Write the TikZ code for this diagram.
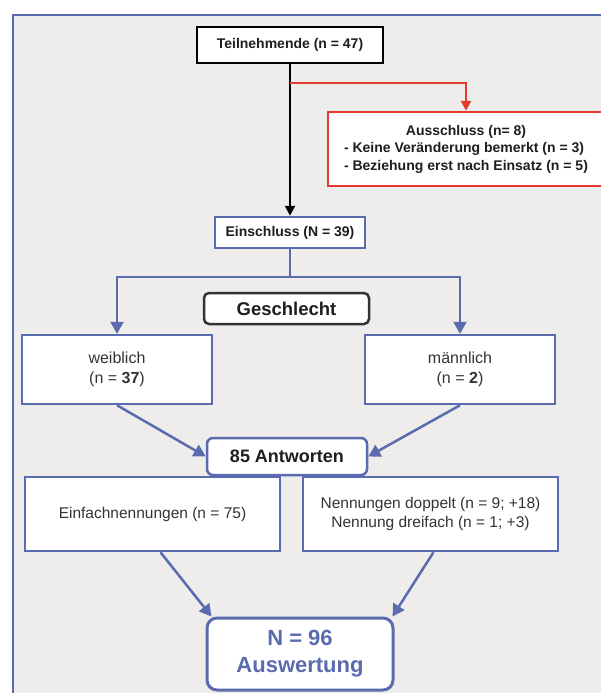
\documentclass[tikz,border=0pt]{standalone}
\usepackage{fontspec}
\setmainfont{Liberation Sans}
\usetikzlibrary{arrows.meta,calc}
\definecolor{fblue}{HTML}{5A6BAF}
\definecolor{bggray}{HTML}{EFECEC}
\definecolor{fred}{HTML}{E53A2F}
\definecolor{txt}{HTML}{1E1E1E}
\definecolor{dgray}{HTML}{333333}
\begin{document}
\begin{tikzpicture}[x=1pt,y=-1pt,
  box/.style={draw, fill=white, line width=2.5pt, inner sep=0pt, align=center, text=txt},
  bbox/.style={box, draw=fblue},
  tip/.style={-{Triangle[length=12pt,width=13pt]}},
  stip/.style={-{Triangle[length=10pt,width=10pt]}},
  bline/.style={draw=fblue, line width=2.5pt},
  barrow/.style={bline, tip, fblue},
]
\useasboundingbox (0,0) rectangle (600,693);
\fill[white] (0,0) rectangle (600,693);
\draw[fblue, line width=2.5pt, fill=bggray] (13,15) rectangle (640,720);

\node[box, draw=black, minimum width=186pt, minimum height=36pt,
  font=\fontsize{14}{17}\selectfont\bfseries] (teil) at (290,45) {Teilnehmende (n = 47)};

\node[box, draw=fred, minimum width=276pt, minimum height=74pt,
  font=\fontsize{14}{17.5}\selectfont\bfseries] (aus) at (466,149)
  {\begin{tabular}{@{}l@{}}\multicolumn{1}{@{}c@{}}{Ausschluss (n= 8)}\\
   - Keine Veränderung bemerkt (n = 3)\\
   - Beziehung erst nach Einsatz (n = 5)\end{tabular}};

\node[bbox, minimum width=150pt, minimum height=31pt,
  font=\fontsize{14}{17}\selectfont\bfseries] (ein) at (290,232.5) {Einschluss (N = 39)};

\node[box, draw=dgray, rounded corners=5pt, minimum width=165pt, minimum height=31pt,
  font=\fontsize{18.5}{22}\selectfont\bfseries] (ges) at (286.5,308.5) {Geschlecht};

\node[bbox, minimum width=190pt, minimum height=69pt, text=dgray,
  font=\fontsize{16}{20}\selectfont] (wei) at (117,369.5) {weiblich\\(n = \textbf{37})};
\node[bbox, minimum width=190pt, minimum height=69pt, text=dgray,
  font=\fontsize{16}{20}\selectfont] (mae) at (460,369.5) {männlich\\(n = \textbf{2})};

\node[bbox, rounded corners=6pt, minimum width=160pt, minimum height=37pt,
  font=\fontsize{18}{22}\selectfont\bfseries] (antw) at (287,456.5) {85 Antworten};

\node[bbox, minimum width=255pt, minimum height=74pt, text=dgray,
  font=\fontsize{15.5}{18.5}\selectfont] (einf) at (152.5,514) {Einfachnennungen (n = 75)};
\node[bbox, minimum width=255pt, minimum height=74pt, text=dgray,
  font=\fontsize{15.5}{18.5}\selectfont] (nenn) at (430.5,514)
  {Nennungen doppelt (n = 9; +18)\\Nennung dreifach (n = 1; +3)};

\node[bbox, rounded corners=10pt, line width=3pt, minimum width=186pt, minimum height=72pt,
  text=fblue, font=\fontsize{22}{27}\selectfont\bfseries] (ausw) at (300,654) {N = 96\\Auswertung};

% connectors
\coordinate (rsplit) at (290,83);
\coordinate (bsplit) at (290,277);
\draw[line width=2.2pt, stip, black] (teil.south) -- (ein.north);
\draw[line width=2.2pt, stip, fred] (rsplit) -| (aus.north);
\draw[bline] (ein.south) -- (bsplit);
\draw[barrow] (bsplit) -| (wei.north);
\draw[barrow] (bsplit) -| (mae.north);
\draw[barrow] (wei.south) -- (antw.west);
\draw[barrow] (mae.south) -- (antw.east);
\draw[barrow] ($(einf.south)+(8,0)$) -- ($(ausw.north west)+(6,0)$);
\draw[barrow] ($(nenn.south)+(3,0)$) -- ($(ausw.north east)+(-2,0)$);
\end{tikzpicture}
\end{document}
